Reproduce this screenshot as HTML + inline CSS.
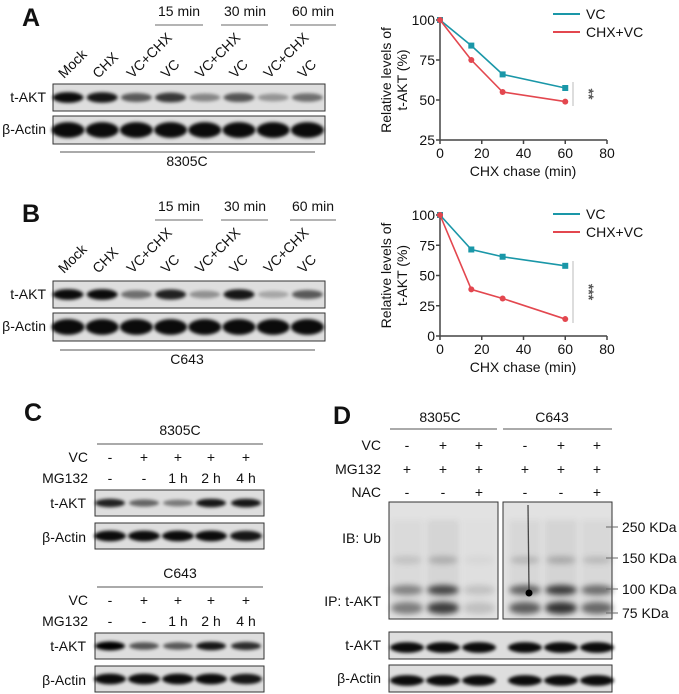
<!DOCTYPE html>
<html><head><meta charset="utf-8"><style>
html,body{margin:0;padding:0;background:#fff;}
svg{display:block;font-family:"Liberation Sans",Arial,sans-serif;}
</style></head><body>
<svg id="fig" width="679" height="694" viewBox="0 0 679 694" xmlns="http://www.w3.org/2000/svg">
<defs>
<filter id="blur" x="-30%" y="-100%" width="160%" height="300%"><feGaussianBlur stdDeviation="1.5"/></filter>
<filter id="blur2" x="-30%" y="-100%" width="160%" height="300%"><feGaussianBlur stdDeviation="3"/></filter>
</defs>
<g id="static" font-size="14" fill="#111">
<text x="22" y="26" font-size="25" font-weight="bold">A</text>
<text x="22" y="222" font-size="25" font-weight="bold">B</text>
<text x="24" y="421" font-size="25" font-weight="bold">C</text>
<text x="333" y="424" font-size="25" font-weight="bold">D</text>
</g>
<g id="dyn"></g>
</svg>
<script>
// ---- chart data ----
const chxTimes = [0, 15, 30, 60];
const vcA = [100, 84, 66, 57.5];
const chxvcA = [100, 75, 55, 49];
const vcB = [100, 71.5, 65.5, 58];
const chxvcB = [100, 38.5, 31, 14];
const xTicks = [0, 20, 40, 60, 80];
const yTicksA = [25, 50, 75, 100];
const yTicksB = [0, 25, 50, 75, 100];
// blot band intensities
const laneLabels = ["Mock","CHX","VC+CHX","VC","VC+CHX","VC","VC+CHX","VC"];
const aktA = [0.95,0.9,0.6,0.75,0.4,0.62,0.33,0.5];
const aktB = [0.95,0.95,0.5,0.85,0.35,0.9,0.25,0.6];
const aktC1 = [0.85,0.55,0.45,0.9,0.9];
const aktC2 = [1,0.62,0.6,0.9,0.8];
const ubD = [0.45,0.75,0.15,0.6,0.8,0.55];

const NS="http://www.w3.org/2000/svg";
const root=document.getElementById('dyn');
function mk(tag,attrs,parent){const e=document.createElementNS(NS,tag);for(const k in attrs)e.setAttribute(k,attrs[k]);(parent||root).appendChild(e);return e;}
function txt(x,y,s,size,anchor,parent,extra){const t=mk('text',Object.assign({x:x,y:y,'font-size':size||14,'text-anchor':anchor||'start',fill:'#111'},extra||{}),parent);t.textContent=s;return t;}

function blot(x,y,w,h,lanes,vals,name,bw,bh,dy){
  const g=mk('g',{});
  
  
  mk('rect',{x:x,y:y,width:w,height:h,fill:'#dedede',stroke:'#333','stroke-width':1},g);
  lanes.forEach((lx,i)=>{
    const v=vals[i];
    const b=mk('ellipse',{cx:lx,cy:y+h/2+(dy||0),rx:bw/2,ry:bh*(0.55+0.45*v)/2,fill:'#000','fill-opacity':v,filter:'url(#blur)'},g);
    
    
  });
  return g;
}

function panelAB(top,akt,cell,boxes){
  const lanes=[];for(let i=0;i<8;i++)lanes.push(68+34.2*i);
  const times=[["15 min",179,155,203],["30 min",245,221,268],["60 min",313,290,336]];
  times.forEach(t=>{
    const e=txt(t[1],top+16,t[0],14,'middle');
    
    
    mk('line',{x1:t[2],x2:t[3],y1:top+25,y2:top+25,stroke:'#888','stroke-width':1.2});
  });
  lanes.forEach((lx,i)=>{
    const e=txt(lx-4,top+79,laneLabels[i],14,'start',null,{transform:`rotate(-45 ${lx-4} ${top+79})`});
    
    
  });
  const l1=txt(46,boxes[0]+18,"t-AKT",14,'end');
  
  const l2=txt(46,boxes[1]+18,"β-Actin",14,'end');
  
  blot(53,boxes[0],272,27,lanes,akt,'t-akt-blot',31,11,0);
  blot(53,boxes[1],272,28,lanes,[0.95,0.95,0.95,0.95,0.95,0.95,0.95,0.95],'actin-blot',33,16,0);
  mk('line',{x1:60,x2:315,y1:boxes[2],y2:boxes[2],stroke:'#555','stroke-width':1});
  const c=txt(187,boxes[2]+14,cell,14,'middle');
  
}
panelAB(0,aktA,"8305C",[84,116,152]);
panelAB(195,aktB,"C643",[281,313,350]);

function chart(top,yMin,yAxisTop,yAxisBottom,yTicks,vc,chx,sig,sigY1,sigY2,name){
  const g=mk('g',{});
  
  
  const x0=440,x1=607;
  const xs=v=>x0+(x1-x0)*v/80;
  const ys=v=>yAxisBottom-(yAxisBottom-yAxisTop)*(v-yMin)/(100-yMin);
  mk('line',{x1:x0,x2:x0,y1:yAxisTop-1,y2:yAxisBottom,stroke:'#444','stroke-width':1.5},g);
  mk('line',{x1:x0,x2:x1,y1:yAxisBottom,y2:yAxisBottom,stroke:'#444','stroke-width':1.5},g);
  yTicks.forEach(v=>{
    mk('line',{x1:x0-4,x2:x0,y1:ys(v),y2:ys(v),stroke:'#444','stroke-width':1.5},g);
    const t=txt(x0-5,ys(v)+5,String(v),14,'end',g);
    
  });
  xTicks.forEach(v=>{
    mk('line',{x1:xs(v),x2:xs(v),y1:yAxisBottom,y2:yAxisBottom+4,stroke:'#444','stroke-width':1.5},g);
    const t=txt(xs(v),yAxisBottom+18,String(v),14,'middle',g);
    
  });
  const xl=txt(523,yAxisBottom+36,"CHX chase (min)",14,'middle',g);
  
  const cy=(yAxisTop+yAxisBottom)/2;
  const yl1=txt(391,cy,"Relative levels of",14,'middle',g,{transform:`rotate(-90 391 ${cy})`});
  
  const yl2=txt(407,cy,"t-AKT (%)",14,'middle',g,{transform:`rotate(-90 407 ${cy})`});
  
  const series=[[vc,'#1a97a8','rect','vc-line'],[chx,'#e3474f','circle','chx-vc-line']];
  series.forEach(s=>{
    const pts=chxTimes.map((t,i)=>xs(t)+','+ys(s[0][i])).join(' ');
    const pl=mk('polyline',{points:pts,fill:'none',stroke:s[1],'stroke-width':1.6},g);
    
    chxTimes.forEach((t,i)=>{
      let m;
      if(s[2]==='rect') m=mk('rect',{x:xs(t)-3,y:ys(s[0][i])-3,width:6,height:6,fill:s[1]},g);
      else m=mk('circle',{cx:xs(t),cy:ys(s[0][i]),r:3,fill:s[1]},g);
      
    });
  });
  mk('line',{x1:553,x2:580,y1:top+14,y2:top+14,stroke:'#1a97a8','stroke-width':2},g);
  const lg1=txt(586,top+19,"VC",14,'start',g);
  
  mk('line',{x1:553,x2:580,y1:top+32,y2:top+32,stroke:'#e3474f','stroke-width':2},g);
  const lg2=txt(586,top+37,"CHX+VC",14,'start',g);
  
  mk('line',{x1:573,x2:573,y1:sigY1,y2:sigY2,stroke:'#bbb','stroke-width':1},g);
  const sm=(sigY1+sigY2)/2;
  const st=txt(584,sm,sig,14,'middle',g,{transform:`rotate(90 584 ${sm})`,fill:'#555','font-weight':'bold'});
  
}
chart(0,25,20,140,yTicksA,vcA,chxvcA,"**",82,106,'chart-a');
chart(200,0,215,336,yTicksB,vcB,chxvcB,"***",261,323,'chart-b');

function panelC(top,akt,cell){
  const cols=[110,144,178,211,246];
  const vc=["-","+","+","+","+"],mg=["-","-","1 h","2 h","4 h"];
  const c=txt(180,top,cell,14,'middle');
  
  mk('line',{x1:97,x2:263,y1:top+9,y2:top+9,stroke:'#555','stroke-width':1});
  const r1=txt(88,top+27,"VC",14,'end');
  const r2=txt(88,top+48,"MG132",14,'end');
  cols.forEach((x,i)=>{
    const a=txt(x,top+27,vc[i],14,'middle');
    const b=txt(x,top+48,mg[i],14,'middle');
  });
  const l1=txt(86,top+73,"t-AKT",14,'end');
  const l2=txt(86,top+107,"β-Actin",14,'end');
  blot(95,top+55,169,26,cols,akt,'t-akt-blot',30,9,0);
  blot(95,top+88,169,26,cols,[0.95,0.95,0.95,0.95,0.9],'actin-blot',32,11,0);
}
panelC(435,aktC1,"8305C");
panelC(578,aktC2,"C643");

(function(){
  const cols=[407,443,479,525,561,597];
  const cells=[["8305C",440,390,497],["C643",552,503,612]];
  cells.forEach(c=>{
    const t=txt(c[1],422,c[0],14,'middle');
    mk('line',{x1:c[2],x2:c[3],y1:429,y2:429,stroke:'#777','stroke-width':1.2});
  });
  const rows=[["VC",450,["-","+","+","-","+","+"]],["MG132",474,["+","+","+","+","+","+"]],["NAC",497,["-","-","+","-","-","+"]]];
  rows.forEach(r=>{
    const l=txt(381,r[1],r[0],14,'end');
    cols.forEach((x,i)=>{const s=txt(x,r[1],r[2][i],14,'middle');});
  });
  [[389,498,0],[503,612,3]].forEach(b=>{
    const g=mk('g',{});
    
    
    mk('rect',{x:b[0],y:502,width:b[1]-b[0],height:117,fill:'#e2e2e2',stroke:'#333','stroke-width':1},g);
    for(let k=0;k<3;k++){
      const x=cols[b[2]+k],v=ubD[b[2]+k];
      mk('ellipse',{cx:x,cy:560,rx:15,ry:4,fill:'#000','fill-opacity':v*0.25,filter:'url(#blur2)'},g);
      mk('ellipse',{cx:x,cy:590,rx:16,ry:5,fill:'#000','fill-opacity':v*0.9,filter:'url(#blur2)'},g);
      mk('ellipse',{cx:x,cy:608,rx:16,ry:6,fill:'#000','fill-opacity':v*0.95,filter:'url(#blur2)'},g);
      mk('rect',{x:x-16,y:520,width:32,height:95,fill:'#000','fill-opacity':v*0.08,filter:'url(#blur2)'},g);
    }
    if(b[2]===3){
      mk('line',{x1:528,x2:529,y1:505,y2:590,stroke:'#222','stroke-width':1.3,'stroke-opacity':0.8},g);
      mk('circle',{cx:529,cy:593,r:3.5,fill:'#000'},g);
    }
  });
  const ib=txt(381,543,"IB: Ub",14,'end');
  const ip=txt(381,606,"IP: t-AKT",14,'end');
  const mw=[["250 KDa",527],["150 KDa",558],["100 KDa",589],["75  KDa",613]];
  mw.forEach(m=>{
    mk('line',{x1:606,x2:618,y1:m[1],y2:m[1],stroke:'#666','stroke-width':1});
    const t=txt(622,m[1]+5,m[0],14,'start',null,{'xml:space':'preserve'});
    
  });
  const l1=txt(381,650,"t-AKT",14,'end');
  const l2=txt(381,683,"β-Actin",14,'end');
  blot(389,632,223,27,cols,[0.95,0.95,0.95,0.95,0.95,0.95],'t-akt-input-blot',34,11,2);
  blot(389,665,223,27,cols,[0.95,0.95,0.95,0.95,0.95,0.95],'actin-blot',34,11,2);
})();
</script>
</body></html>
